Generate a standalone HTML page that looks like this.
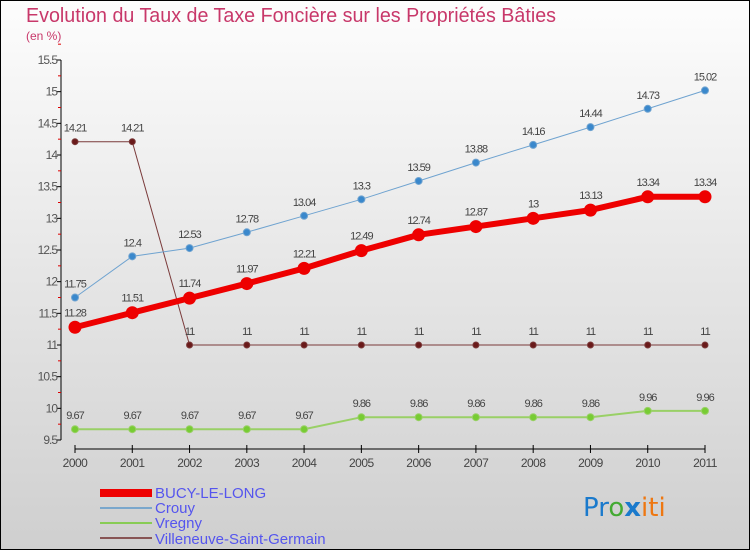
<!DOCTYPE html>
<html><head><meta charset="utf-8"><style>
body{margin:0}
#c{width:750px;height:550px;position:relative;font-family:"Liberation Sans",sans-serif}
</style></head><body>
<div id="c">
<svg id="s" width="750" height="550" xmlns="http://www.w3.org/2000/svg">
<defs><linearGradient id="bg" x1="0" y1="0" x2="0" y2="1"><stop offset="0" stop-color="#fdfdfd"/><stop offset="1" stop-color="#cfcfcf"/></linearGradient></defs>
<rect x="0.5" y="0.5" width="749" height="549" fill="url(#bg)" stroke="#000"/>
<text x="26" y="22" font-size="20" fill="#c8386a" textLength="530" lengthAdjust="spacingAndGlyphs">Evolution du Taux de Taxe Foncière sur les Propriétés Bâties</text>
<text x="26" y="40" font-size="12" fill="#c8386a">(en %)</text>
<g id="axes"></g>
<g id="series"></g>
<g>
<rect x="100" y="489" width="52" height="8" fill="#e00"/>
<text x="155" y="498" font-size="15" fill="#5555ee">BUCY-LE-LONG</text>
<rect x="100" y="507" width="52" height="2" fill="#7aa7cc"/>
<text x="155" y="513" font-size="15" fill="#5555ee">Crouy</text>
<rect x="100" y="522" width="52" height="2" fill="#88cc55"/>
<text x="155" y="528" font-size="15" fill="#5555ee">Vregny</text>
<rect x="100" y="537" width="52" height="2" fill="#885555"/>
<text x="155" y="544" font-size="15" fill="#5555ee">Villeneuve-Saint-Germain</text>
</g>
<text x="583" y="516" font-size="26" font-family="DejaVu Sans, sans-serif"><tspan fill="#1a7acc">Pr</tspan><tspan fill="#44aa33">o</tspan><tspan fill="#1a7acc" font-weight="bold">x</tspan><tspan fill="#ee7711">iti</tspan></text>
</svg></div>
<script>
const years=["2000","2001","2002","2003","2004","2005","2006","2007","2008","2009","2010","2011"];
const bucy=[11.28,11.51,11.74,11.97,12.21,12.49,12.74,12.87,13,13.13,13.34,13.34];
const crouy=[11.75,12.4,12.53,12.78,13.04,13.3,13.59,13.88,14.16,14.44,14.73,15.02];
const vregny=[9.67,9.67,9.67,9.67,9.67,9.86,9.86,9.86,9.86,9.86,9.96,9.96];
const villeneuve=[14.21,14.21,11,11,11,11,11,11,11,11,11,11];
const yTicks=[9.5,10,10.5,11,11.5,12,12.5,13,13.5,14,14.5,15,15.5];
const NS="http://www.w3.org/2000/svg";
const X=i=>75+i*(630/11);
const Y=v=>440-(v-9.5)*(380/6);
function mk(t,a,p){const e=document.createElementNS(NS,t);for(const k in a)e.setAttribute(k,a[k]);p.appendChild(e);return e;}
const ax=document.getElementById('axes');
let yl=mk('line',{x1:61,y1:60,x2:61,y2:440,stroke:'#000'},ax);


yTicks.forEach(v=>{
 mk('line',{x1:57,y1:Y(v),x2:61,y2:Y(v),stroke:'#000'},ax);
 mk('line',{x1:58,y1:Y(v+0.25),x2:61,y2:Y(v+0.25),stroke:'#d00'},ax);
 const t=mk('text',{x:57,y:Y(v)+4,'text-anchor':'end','font-size':12,fill:'#555','letter-spacing':'-1'},ax);
 t.textContent=String(v);
 
 
});
let xl=mk('line',{x1:75,y1:449,x2:705,y2:449,stroke:'#000'},ax);


years.forEach((y,i)=>{
 mk('line',{x1:X(i),y1:445,x2:X(i),y2:453,stroke:'#000'},ax);
 const t=mk('text',{x:X(i),y:467,'text-anchor':'middle','font-size':12,fill:'#444','letter-spacing':'-0.5'},ax);
 t.textContent=y;
 
 
});
const sg=document.getElementById('series');
function draw(name,vals,color,dot,w,r,labelDy){
 const g=mk('g',{},sg);
 
 
 mk('polyline',{points:vals.map((v,i)=>X(i)+','+Y(v)).join(' '),fill:'none',stroke:color,'stroke-width':w},g);
 vals.forEach((v,i)=>{
  const c=mk('circle',{cx:X(i),cy:Y(v),r:r,fill:dot,stroke:color,'stroke-width':1},g);
  
  
  const t=mk('text',{x:X(i),y:Y(v)+labelDy,'text-anchor':'middle','font-size':11,fill:'#444','letter-spacing':'-1'},g);
  t.textContent=String(v);
  
  
 });
}
draw('villeneuve',villeneuve,'#7a3a3a','#6a1a1a',1,3,-10);
draw('vregny',vregny,'#99d066','#77cc33',2,3.5,-10);
draw('crouy',crouy,'#6fa3d0','#3a88cc',1,3.5,-10);
draw('bucy',bucy,'#ee0000','#ee0000',6,6,-11);
</script>
</body></html>
